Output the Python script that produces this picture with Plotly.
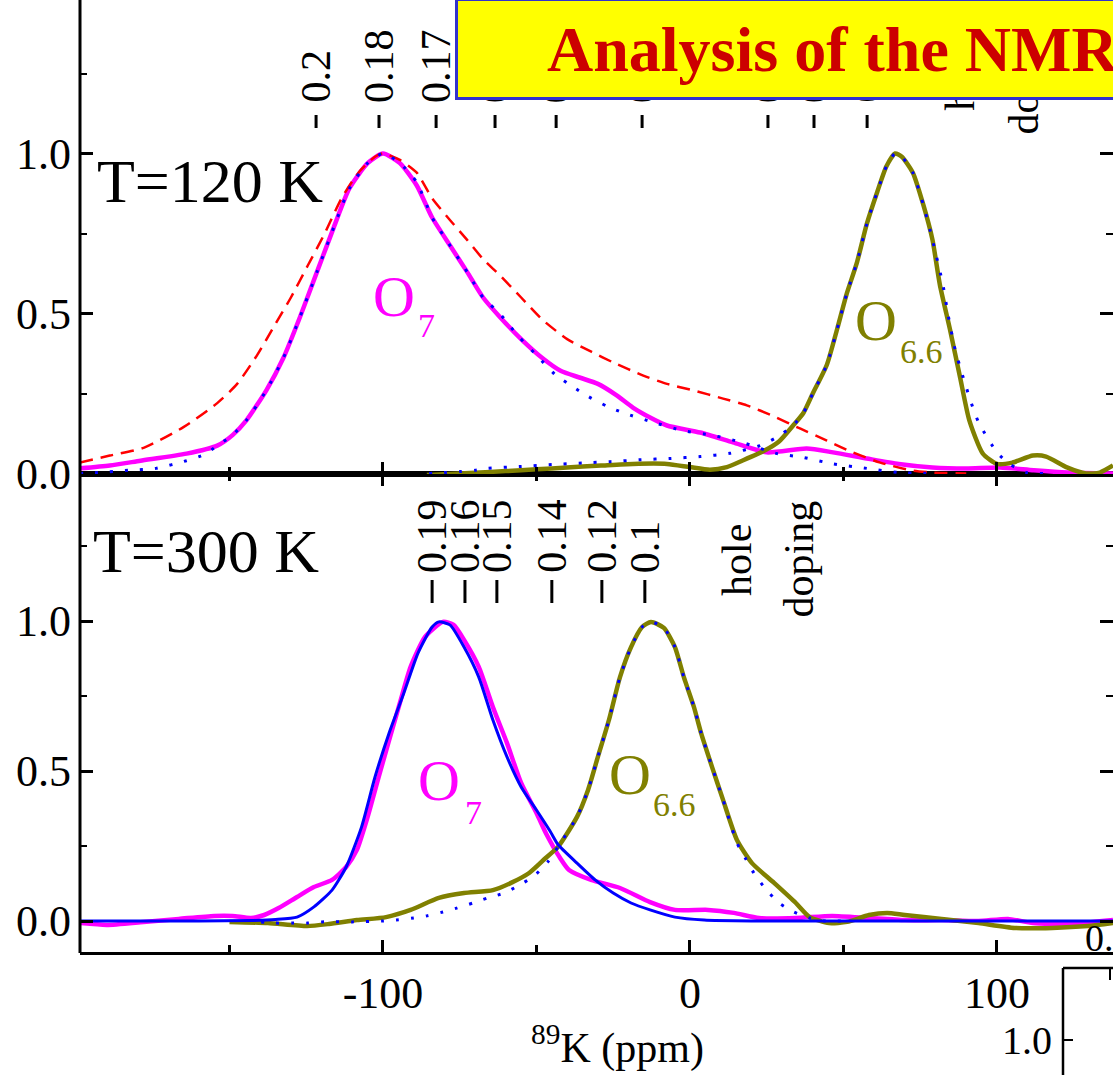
import plotly.graph_objects as go

W, H = 1113, 1075
def px(x): return x / W
def py(y): return 1 - y / H

FONT = "Liberation Serif"

# ---------------- data (ppm, normalised intensity) ----------------
# T = 120 K
t120_o7_x = [-198.7, -189, -179, -164, -154, -149, -144.5, -138, -132.5, -127, -121.5, -116, -111, -105, -100,
             -94.5, -89, -84, -78, -72.6, -67.4, -62, -55, -48, -42, -36, -30, -24, -18.6, -13, -7.5, 3.3,
             14, 25, 38, 46.6, 57.6, 68, 79, 90, 101, 112, 123, 137.8]
t120_o7_y = [0.016, 0.025, 0.04, 0.062, 0.087, 0.12, 0.166, 0.26, 0.36, 0.49, 0.63, 0.77, 0.89, 0.97, 1.0,
             0.97, 0.90, 0.80, 0.71, 0.63, 0.55, 0.49, 0.42, 0.36, 0.32, 0.30, 0.28, 0.245, 0.206, 0.175, 0.15, 0.128,
             0.097, 0.066, 0.078, 0.066, 0.047, 0.03, 0.019, 0.016, 0.019, 0.01, 0.003, 0.0]

t120_sim_x = [-198.7, -189, -178, -165, -154, -147.5, -141, -135.5, -130, -124.5, -119, -113.5, -108, -102.6, -100,
              -94.5, -89, -84, -78, -72.6, -67.4, -62, -55, -48, -40, -32, -25, -15.2, -7.5, 1, 10.8, 18.5, 27,
              36, 44.6, 53, 62, 72.6, 79, 90]
t120_sim_y = [0.034, 0.056, 0.08, 0.145, 0.22, 0.28, 0.37, 0.46, 0.55, 0.65, 0.75, 0.86, 0.94, 0.99, 1.0,
              0.98, 0.94, 0.86, 0.79, 0.73, 0.67, 0.62, 0.55, 0.48, 0.42, 0.38, 0.347, 0.306, 0.28, 0.26, 0.234, 0.213, 0.18,
              0.14, 0.103, 0.066, 0.034, 0.009, 0.003, 0.0]

t120_fit7_x = [-198.7, -193, -183, -174, -164, -158, -154, -149, -144.5, -138, -132.5, -127, -121.5, -116, -111,
               -105, -100, -94.5, -89, -84, -78, -72.6, -67.4, -62, -56, -50, -44, -38, -33, -27, -21.8, -12,
               -2.3, 7.5, 17, 28, 37, 46.6, 57.6, 68, 80]
t120_fit7_y = [0.0, 0.003, 0.01, 0.016, 0.04, 0.06, 0.087, 0.12, 0.166, 0.26, 0.36, 0.49, 0.63, 0.77, 0.89,
               0.97, 1.0, 0.97, 0.91, 0.80, 0.71, 0.63, 0.55, 0.50, 0.43, 0.37, 0.31, 0.27, 0.24, 0.21, 0.19, 0.16,
               0.134, 0.119, 0.097, 0.063, 0.05, 0.03, 0.016, 0.003, 0.0]

t120_o66_x = [-85.7, -75, -65, -55, -45, -35, -29, -18.6, -7.5, 0, 6.5, 12, 17, 24, 29, 33.6, 37, 40, 44.6,
              47.9, 51, 54.4, 57.6, 61, 64, 66.8, 69, 72.6, 76, 79, 81.4, 84.7, 88, 91, 95.4, 100, 105,
              111.7, 116, 122.8, 129, 133.5, 137.8]
t120_o66_y = [-0.005, 0.0, 0.005, 0.01, 0.016, 0.022, 0.025, 0.03, 0.03, 0.02, 0.012, 0.02, 0.04, 0.07, 0.10, 0.15,
              0.19, 0.25, 0.34, 0.45, 0.56, 0.66, 0.78, 0.88, 0.96, 1.0, 0.99, 0.94, 0.84, 0.73, 0.59, 0.45, 0.30,
              0.166, 0.062, 0.03, 0.034, 0.056, 0.053, 0.019, 0.0, 0.003, 0.025]

t120_fit66_x = [-85, -80, -75, -70, -66, -55, -45, -35, -26, -16, -6.5, 3.3, 13, 22.8, 27.7, 33.6, 37, 40, 44.6,
                47.9, 51, 54.4, 57.6, 61, 64, 66.8, 69, 72.6, 76, 79, 82.4, 84, 86.3, 89, 92, 94, 100, 104,
                109.6, 115]
t120_fit66_y = [0.0, 0.003, 0.006, 0.01, 0.016, 0.022, 0.028, 0.033, 0.037, 0.043, 0.047, 0.053, 0.063, 0.087,
                0.11, 0.15, 0.19, 0.25, 0.34, 0.45, 0.56, 0.66, 0.78, 0.88, 0.96, 1.0, 0.99, 0.94, 0.84, 0.73,
                0.59, 0.50, 0.39, 0.30, 0.21, 0.16, 0.066, 0.03, 0.003, 0.0]

# T = 300 K
t300_o7_x = [-198.4, -190, -178, -166.5, -155, -149, -143, -138.7, -134, -128, -122.5, -116.6, -112, -108.5, -105,
             -101.4, -98, -94.5, -91, -86.3, -80.5, -77, -73.6, -68.8, -64.2, -59.6, -55, -50, -46.8, -42.3,
             -39.4, -32.2, -22.8, -13, -4.9, 5.9, 14.3, 22.5, 34.5, 46.3, 58.3, 70, 82, 94, 103.6, 111.7,
             123.8, 137.8]
t300_o7_y = [-0.007, -0.013, -0.003, 0.007, 0.017, 0.017, 0.01, 0.02, 0.043, 0.08, 0.113, 0.137, 0.18, 0.237, 0.347,
             0.48, 0.603, 0.727, 0.847, 0.947, 0.997, 0.987, 0.937, 0.847, 0.713, 0.593, 0.46, 0.36, 0.29, 0.21,
             0.17, 0.137, 0.11, 0.063, 0.037, 0.037, 0.027, 0.01, 0.01, 0.017, 0.01, 0.003, 0.003, 0.0, 0.007, -0.007,
             -0.01, 0.003]

t300_fit7_x = [-198.7, -160, -142, -135, -128, -122.5, -116.6, -112, -107, -102.6, -98, -93.2, -88.6, -84, -81.8,
               -78.2, -73.6, -68.8, -64.2, -59.6, -55, -50, -45.6, -43, -36.8, -30.9, -25, -19.2, -13, -4.9,
               4.6, 20, 137.8]
t300_fit7_y = [0.0, 0.0, 0.002, 0.005, 0.013, 0.047, 0.103, 0.18, 0.313, 0.48, 0.627, 0.76, 0.893, 0.98, 0.997,
               0.987, 0.913, 0.813, 0.67, 0.547, 0.447, 0.37, 0.30, 0.255, 0.193, 0.137, 0.093, 0.06, 0.037, 0.013,
               0.003, 0.0, 0.0]

t300_o66_x = [-150, -137.5, -124.7, -117.6, -108.5, -99, -91, -81.8, -73.6, -64.2, -58.3, -52.4, -47, -43, -36.8,
              -33.2, -30, -26.4, -22.8, -19.2, -15.6, -12.7, -8.5, -4.9, -2, 1.3, 3.6, 7.2, 10.8, 15.3, 20.2,
              27.4, 34.5, 39, 45.3, 51.2, 58.3, 64.2, 70, 82, 94, 105.8, 118, 129.6, 137.8]
t300_o66_y = [-0.003, -0.007, -0.017, -0.01, 0.003, 0.013, 0.037, 0.077, 0.093, 0.103, 0.127, 0.16, 0.21, 0.247,
              0.347, 0.437, 0.547, 0.67, 0.813, 0.913, 0.98, 0.997, 0.977, 0.913, 0.813, 0.713, 0.627, 0.513, 0.403,
              0.27, 0.193, 0.127, 0.06, 0.013, -0.007, -0.003, 0.02, 0.027, 0.02, 0.007, -0.007, -0.023, -0.023,
              -0.017, -0.007]

t300_fit66_x = [-139.7, -135, -129, -124.7, -120, -110, -100, -95.7, -90, -85.7, -80.5, -76, -70.7, -65.8, -60.6,
                -56, -50.8, -46.3, -43, -36.8, -33.2, -30, -26.4, -22.8, -19.2, -15.6, -12.7, -8.5, -4.9, -2,
                1.3, 3.6, 7.2, 10.8, 15.3, 18, 20.8, 24.4, 29, 33.9, 39, 44, 50]
t300_fit66_y = [-0.003, -0.007, -0.007, -0.007, -0.003, -0.003, 0.0, 0.003, 0.01, 0.017, 0.03, 0.043, 0.06, 0.077,
                0.093, 0.117, 0.15, 0.197, 0.247, 0.347, 0.437, 0.547, 0.67, 0.813, 0.913, 0.98, 0.997, 0.977,
                0.913, 0.813, 0.713, 0.627, 0.513, 0.403, 0.26, 0.21, 0.16, 0.11, 0.06, 0.03, 0.01, 0.0, 0.0]

# hole-doping scales (tick position in ppm, label)
dop120_pos = [-121.8, -101.3, -82.7, -63.5, -43.6, -15.6, 25.4, 40.4, 57.7]
dop120_txt = ["0.2", "0.18", "0.17", "0.16", "0.15", "0.14", "0.12", "0.11", "0.1"]
dop300_pos = [-84.0, -73.3, -62.9, -45.0, -28.7, -14.7]
dop300_txt = ["0.19", "0.16", "0.15", "0.14", "0.12", "0.1"]

x_ticks = [-100, 0, 100]
x_ticktext = ["-100", "0", "100"]
x_minor = [-150, -50, 50]

# ---------------- figure ----------------
MAG, OLV, BLU, RED = "#FF00FF", "#808000", "#0000FF", "#FF0000"
fig = go.Figure()

def add(x, y, color, width, dash, xa, ya):
    fig.add_trace(go.Scatter(x=x, y=y, mode="lines", xaxis=xa, yaxis=ya, showlegend=False,
                             hoverinfo="skip",
                             line=dict(color=color, width=width, dash=dash, shape="spline", smoothing=0.6)))

# top panel (120 K)
add(t120_o7_x, t120_o7_y, MAG, 4.5, "solid", "x2", "y2")
add(t120_o66_x, t120_o66_y, OLV, 4.5, "solid", "x2", "y2")
add(t120_sim_x, t120_sim_y, RED, 2.5, "13px,8px", "x2", "y2")
add(t120_fit7_x, t120_fit7_y, BLU, 3, "3px,12px", "x2", "y2")
add(t120_fit66_x, t120_fit66_y, BLU, 3, "3px,12px", "x2", "y2")
# bottom panel (300 K)
add(t300_o7_x, t300_o7_y, MAG, 4.5, "solid", "x", "y")
add(t300_o66_x, t300_o66_y, OLV, 4.5, "solid", "x", "y")
add(t300_fit7_x, t300_fit7_y, BLU, 3, "solid", "x", "y")
add(t300_fit66_x, t300_fit66_y, BLU, 3, "3px,12px", "x", "y")

tickfont = dict(family=FONT, size=44, color="black")
XR = [-198.7, 137.8]
xcommon = dict(range=XR, domain=[px(80), 1], showgrid=False, zeroline=False, automargin=False,
               ticks="inside", ticklen=12, tickwidth=2.5, tickcolor="black",
               tickvals=x_ticks, ticktext=x_ticktext,
               minor=dict(tickvals=x_minor, ticks="inside", ticklen=7, tickwidth=2.5, tickcolor="black"),
               showline=True, linewidth=3, linecolor="black", tickfont=tickfont)
ycommon = dict(showgrid=False, zeroline=False, automargin=False, ticks="inside", ticklen=13, tickwidth=2.5,
               tickcolor="black", tick0=0, dtick=0.5, tickformat=".1f",
               minor=dict(tick0=0, dtick=0.25, ticks="inside", ticklen=7, tickwidth=2, tickcolor="black"),
               showline=False, mirror="ticks", tickfont=tickfont, ticklabelstandoff=8)

fig.update_layout(
    width=W, height=H, autosize=False,
    margin=dict(l=0, r=0, t=0, b=0, pad=0),
    paper_bgcolor="white", plot_bgcolor="white",
    xaxis=dict(**xcommon, anchor="y", mirror="ticks", ticklabelstandoff=0),
    xaxis2=dict(**xcommon, anchor="y2", matches="x", showticklabels=False),
    yaxis=dict(**ycommon, domain=[py(952), py(474)], range=[(921 - 952) / 300, (921 - 474) / 300], anchor="x"),
    yaxis2=dict(**ycommon, domain=[py(474), 1], range=[(473.5 - 474) / 320, 473.5 / 320], anchor="x2"),
)

shapes = []
# left axis line spanning both panels
shapes.append(dict(type="line", xref="paper", yref="paper", x0=px(80), x1=px(80), y0=py(953), y1=1,
                   line=dict(color="black", width=3)))
# doping scale ticks
for p in dop300_pos:
    shapes.append(dict(type="line", xref="x", yref="paper", x0=p, x1=p, y0=py(603), y1=py(580),
                       line=dict(color="black", width=3)))
for p in dop120_pos:
    shapes.append(dict(type="line", xref="x2", yref="paper", x0=p, x1=p, y0=py(128), y1=py(115),
                       line=dict(color="black", width=3)))
# fragment of the neighbouring inset (bottom right)
shapes += [
    dict(type="line", xref="paper", yref="paper", x0=px(1063), x1=px(1063), y0=py(968), y1=0,
         line=dict(color="black", width=2.5)),
    dict(type="line", xref="paper", yref="paper", x0=px(1063), x1=1, y0=py(968), y1=py(968),
         line=dict(color="black", width=2.5)),
    dict(type="line", xref="paper", yref="paper", x0=px(1063), x1=px(1073), y0=py(1040), y1=py(1040),
         line=dict(color="black", width=2)),
    dict(type="line", xref="paper", yref="paper", x0=px(1110), x1=px(1110), y0=py(968), y1=py(980),
         line=dict(color="black", width=2)),
]
fig.update_layout(shapes=shapes)

ann = []
def A(**kw):
    kw.setdefault("showarrow", False)
    ann.append(kw)

A(text="T=120 K", xref="paper", yref="paper", x=px(95), y=py(181), xanchor="left", yanchor="middle",
  font=dict(family=FONT, size=62, color="black"))
A(text="T=300 K", xref="paper", yref="paper", x=px(91), y=py(551), xanchor="left", yanchor="middle",
  font=dict(family=FONT, size=62, color="black"))

# sample labels: large "O" with a lowered subscript
def olabel(xa, ya, x0, y0, xs, ys, subtxt, color):
    A(text="O", xref=xa, yref=ya, x=x0, y=y0, xanchor="left", yanchor="middle",
      font=dict(family=FONT, size=58, color=color))
    A(text=subtxt, xref=xa, yref=ya, x=xs, y=ys, xanchor="left", yanchor="middle",
      font=dict(family=FONT, size=34, color=color))

olabel("x2", "y2", -103.9, 0.552, -89.3, 0.464, "7", MAG)
olabel("x2", "y2", 53.1, 0.477, 67.8, 0.380, "6.6", OLV)
olabel("x", "y", -89.3, 0.47, -73.9, 0.363, "7", MAG)
olabel("x", "y", -27.0, 0.49, -12.7, 0.387, "6.6", OLV)

lab = dict(family=FONT, size=42, color="black")
for p, t in zip(dop300_pos, dop300_txt):
    A(text=t, xref="x", yref="paper", x=p, y=py(574), xanchor="center", yanchor="bottom", textangle=-90,
      font=lab, borderpad=0)
A(text="hole", xref="x", yref="paper", x=15.3, y=py(597), xanchor="center", yanchor="bottom", textangle=-90,
  font=lab, borderpad=0)
A(text="doping", xref="x", yref="paper", x=35.2, y=py(619), xanchor="center", yanchor="bottom", textangle=-90,
  font=lab, borderpad=0)
for p, t in zip(dop120_pos, dop120_txt):
    A(text=t, xref="x2", yref="paper", x=p, y=py(104), xanchor="center", yanchor="bottom", textangle=-90,
      font=lab, borderpad=0)
A(text="hole", xref="x2", yref="paper", x=87.9, y=py(112), xanchor="center", yanchor="bottom", textangle=-90,
  font=lab, borderpad=0)
A(text="doping", xref="x2", yref="paper", x=109.1, y=py(135), xanchor="center", yanchor="bottom", textangle=-90,
  font=lab, borderpad=0)

# title box (covers the upper labels)
A(text=" ", xref="paper", yref="paper", x=px(455), y=py(100), xanchor="left", yanchor="bottom",
  width=700, height=96, bgcolor="#FFFF00", bordercolor="#3333CC", borderwidth=3, borderpad=0,
  font=dict(family=FONT, size=20))
A(text="<b>Analysis of the NMR spectra</b>", xref="paper", yref="paper", x=px(545), y=py(50),
  xanchor="left", yanchor="middle", font=dict(family=FONT, size=64, color="#CC0000"))

A(text="<sup>89</sup>K (ppm)", xref="paper", yref="paper", x=px(617), y=py(1045), xanchor="center",
  yanchor="middle", font=dict(family=FONT, size=42, color="black"))
A(text="1.0", xref="paper", yref="paper", x=px(1054), y=py(1040), xanchor="right", yanchor="middle",
  font=dict(family=FONT, size=40, color="black"))
A(text="0.0", xref="paper", yref="paper", x=px(1083), y=py(938), xanchor="left", yanchor="middle",
  font=dict(family=FONT, size=38, color="black"))

fig.update_layout(annotations=ann)
fig.write_html("out.html")
